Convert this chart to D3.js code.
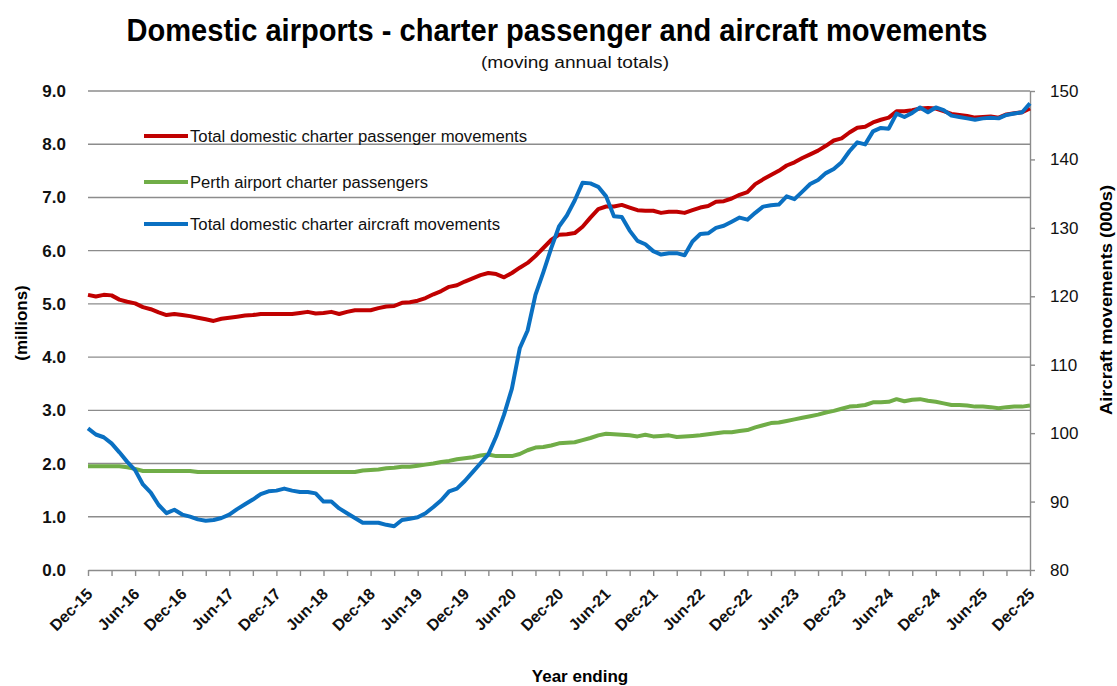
<!DOCTYPE html>
<html>
<head>
<meta charset="utf-8">
<script src="https://cdn.jsdelivr.net/npm/d3@7"></script>
<style>
  html, body { margin: 0; padding: 0; background: #fff; }
  svg { display: block; }
</style>
</head>
<body>
<div id="chart"></div>
<script>
// ── Data (moving annual totals, Dec-15 .. Dec-25, monthly) ──
const months = d3.timeMonth.range(new Date(2015, 11, 1), new Date(2026, 0, 1));
const categories = months.map(d3.timeFormat("%b-%y"));

// Total domestic charter passenger movements (millions)
const passengers = [
  5.17,5.14,5.17,5.16,5.08,5.04,5.01,4.94,4.90,4.84,
  4.79,4.81,4.79,4.77,4.74,4.71,4.68,4.72,4.74,4.76,
  4.78,4.79,4.81,4.81,4.81,4.81,4.81,4.83,4.85,4.82,
  4.83,4.85,4.81,4.85,4.88,4.88,4.88,4.92,4.95,4.96,
  5.02,5.03,5.06,5.11,5.18,5.24,5.32,5.35,5.42,5.48,
  5.54,5.58,5.56,5.50,5.58,5.68,5.77,5.90,6.05,6.20,
  6.30,6.31,6.33,6.45,6.62,6.78,6.83,6.83,6.86,6.81,
  6.76,6.75,6.75,6.71,6.73,6.73,6.71,6.76,6.81,6.84,
  6.92,6.93,6.98,7.05,7.10,7.25,7.34,7.42,7.50,7.60,
  7.66,7.74,7.81,7.88,7.97,8.07,8.11,8.22,8.31,8.33,
  8.41,8.46,8.50,8.62,8.62,8.64,8.67,8.68,8.67,8.62,
  8.57,8.55,8.53,8.50,8.51,8.52,8.50,8.56,8.58,8.60,
  8.67
];

// Perth airport charter passengers (millions)
const perth = [
  1.95,1.95,1.95,1.95,1.95,1.93,1.90,1.86,1.86,1.86,
  1.86,1.86,1.86,1.86,1.84,1.84,1.84,1.84,1.84,1.84,
  1.84,1.84,1.84,1.84,1.84,1.84,1.84,1.84,1.84,1.84,
  1.84,1.84,1.84,1.84,1.84,1.87,1.88,1.89,1.91,1.92,
  1.94,1.94,1.96,1.98,2.00,2.03,2.05,2.08,2.10,2.12,
  2.15,2.17,2.14,2.14,2.14,2.18,2.25,2.30,2.31,2.34,
  2.38,2.39,2.40,2.44,2.48,2.53,2.56,2.55,2.54,2.53,
  2.51,2.54,2.51,2.52,2.53,2.50,2.51,2.52,2.53,2.55,
  2.57,2.59,2.59,2.61,2.63,2.68,2.72,2.76,2.77,2.80,
  2.83,2.86,2.89,2.92,2.96,2.99,3.03,3.07,3.08,3.10,
  3.15,3.15,3.16,3.21,3.17,3.20,3.21,3.18,3.16,3.13,
  3.10,3.10,3.09,3.07,3.07,3.06,3.04,3.06,3.07,3.07,
  3.09
];

// Total domestic charter aircraft movements (000s, right axis)
const aircraft = [
  100.7,99.8,99.4,98.5,97.2,95.8,94.6,92.5,91.3,89.5,
  88.3,88.8,88.1,87.8,87.4,87.2,87.3,87.6,88.1,88.9,
  89.6,90.3,91.1,91.5,91.6,91.9,91.6,91.4,91.4,91.2,
  90.0,90.0,89.0,88.3,87.6,86.9,86.9,86.9,86.6,86.4,
  87.3,87.5,87.7,88.3,89.2,90.2,91.5,91.9,93.0,94.3,
  95.6,96.9,99.5,102.7,106.5,112.4,115.0,120.2,123.5,127.0,
  130.2,131.8,134.0,136.6,136.5,136.0,134.6,131.7,131.6,129.6,
  128.1,127.6,126.6,126.1,126.3,126.3,126.0,128.0,129.1,129.2,
  130.0,130.3,130.9,131.5,131.2,132.2,133.1,133.3,133.4,134.6,
  134.2,135.3,136.4,137.0,138.0,138.6,139.6,141.2,142.5,142.2,
  144.1,144.6,144.5,146.7,146.2,146.8,147.6,146.9,147.6,147.2,
  146.4,146.2,146.0,145.8,146.0,146.1,146.0,146.5,146.7,146.9,
  148.2
];

const leftTicks  = d3.range(0, 9.01, 1);
const rightTicks = d3.range(80, 151, 10);

const seriesNames  = ["Total domestic charter passenger movements",
                      "Perth airport charter passengers",
                      "Total domestic charter aircraft movements"];

// ── Layout ──────────────────────────────────────
const W = 1117, H = 686;
const plot = { left: 88, right: 1030, top: 91, bottom: 570 };
const FONT   = "'Liberation Sans', Arial, sans-serif";
const NARROW = "'Liberation Sans Narrow', 'Arial Narrow', 'Liberation Sans', Arial, sans-serif";
const GRID   = "#8c8c8c";
const RED = "#C00000", GREEN = "#70AD47", BLUE = "#0A70C2";

const svg = d3.select("#chart").append("svg")
  .attr("width", W).attr("height", H);

const x = d3.scalePoint().domain(categories).range([plot.left, plot.right]);
const yL = d3.scaleLinear().domain([0, 9]).range([plot.bottom, plot.top]);
const yR = d3.scaleLinear().domain([80, 150]).range([plot.bottom, plot.top]);

// Title
svg.append("text")
  .attr("x", 557).attr("y", 41)
  .attr("text-anchor", "middle")
  .attr("font-family", NARROW).attr("font-weight", "bold").attr("font-size", 32)
  .attr("textLength", 861).attr("lengthAdjust", "spacingAndGlyphs")
  .text("Domestic airports - charter passenger and aircraft movements");
svg.append("text")
  .attr("x", 575).attr("y", 68)
  .attr("text-anchor", "middle")
  .attr("font-family", NARROW).attr("font-size", 16).attr("fill", "#111")
  .attr("textLength", 188).attr("lengthAdjust", "spacingAndGlyphs")
  .text("(moving annual totals)");

// Grid
svg.append("g").selectAll("line").data(leftTicks.filter(d => d > 0)).join("line")
  .attr("x1", plot.left).attr("x2", plot.right)
  .attr("y1", d => yL(d)).attr("y2", d => yL(d))
  .attr("stroke", GRID).attr("stroke-width", 1.4);

// Left axis (labels only)
const gL = svg.append("g").attr("transform", `translate(${plot.left},0)`)
  .call(d3.axisLeft(yL).tickValues(leftTicks).tickFormat(d3.format(".1f"))
    .tickSize(0).tickPadding(22));
gL.select(".domain").remove();
gL.selectAll("text").attr("font-family", FONT).attr("font-size", 17)
  .attr("font-weight", "bold").attr("fill", "#111");

// Right axis
const gR = svg.append("g").attr("transform", `translate(${plot.right},0)`)
  .call(d3.axisRight(yR).tickValues(rightTicks).tickSize(5).tickSizeOuter(0).tickPadding(15));
gR.select(".domain").attr("stroke", GRID).attr("stroke-width", 1.4);
gR.selectAll(".tick line").attr("stroke", GRID).attr("stroke-width", 1.4);
gR.selectAll("text").attr("font-family", FONT).attr("font-size", 17).attr("fill", "#111");

// Bottom axis: tick every quarter, label every half year
const gB = svg.append("g").attr("transform", `translate(0,${plot.bottom})`)
  .call(d3.axisBottom(x)
    .tickValues(categories.filter((d, i) => i % 3 === 0))
    .tickFormat((d, i) => i % 2 === 0 ? d : "")
    .tickSize(6).tickSizeOuter(0));
gB.select(".domain").attr("stroke", GRID).attr("stroke-width", 1.4);
gB.selectAll(".tick line").attr("stroke", GRID).attr("stroke-width", 1.4);
gB.selectAll("text")
  .attr("x", 0).attr("y", 0).attr("dy", 0)
  .attr("transform", "translate(5,25) rotate(-45)")
  .style("text-anchor", "end")
  .attr("font-family", FONT).attr("font-size", 16).attr("font-weight", "bold").attr("fill", "#111");

// Axis titles
svg.append("text")
  .attr("transform", "translate(27,323) rotate(-90)")
  .attr("text-anchor", "middle")
  .attr("font-family", FONT).attr("font-weight", "bold").attr("font-size", 17)
  .text("(millions)");
svg.append("text")
  .attr("transform", "translate(1112,300) rotate(-90)")
  .attr("text-anchor", "middle")
  .attr("font-family", FONT).attr("font-weight", "bold").attr("font-size", 17)
  .attr("textLength", 230).attr("lengthAdjust", "spacingAndGlyphs")
  .text("Aircraft movements (000s)");
svg.append("text")
  .attr("x", 580).attr("y", 682)
  .attr("text-anchor", "middle")
  .attr("font-family", FONT).attr("font-weight", "bold").attr("font-size", 17)
  .text("Year ending");

// Lines
const lineL = d3.line().x((d, i) => x(categories[i])).y(d => yL(d));
const lineR = d3.line().x((d, i) => x(categories[i])).y(d => yR(d));

svg.append("path").datum(passengers).attr("d", lineL)
  .attr("fill", "none").attr("stroke", RED).attr("stroke-width", 4).attr("stroke-linejoin", "round");
svg.append("path").datum(perth).attr("d", lineL)
  .attr("fill", "none").attr("stroke", GREEN).attr("stroke-width", 4).attr("stroke-linejoin", "round");
svg.append("path").datum(aircraft).attr("d", lineR)
  .attr("fill", "none").attr("stroke", BLUE).attr("stroke-width", 4).attr("stroke-linejoin", "round");

// Legend
const legendY = [136, 182, 224];
const legendW = [337, 238, 310];
const legendC = [RED, GREEN, BLUE];
const lg = svg.append("g");
seriesNames.forEach((name, i) => {
  lg.append("line")
    .attr("x1", 144).attr("x2", 188)
    .attr("y1", legendY[i]).attr("y2", legendY[i])
    .attr("stroke", legendC[i]).attr("stroke-width", 4);
  lg.append("text")
    .attr("x", 190).attr("y", legendY[i] + 5.5)
    .attr("font-family", FONT).attr("font-size", 16).attr("fill", "#111")
    .attr("textLength", legendW[i]).attr("lengthAdjust", "spacingAndGlyphs")
    .text(name);
});
</script>
</body>
</html>
